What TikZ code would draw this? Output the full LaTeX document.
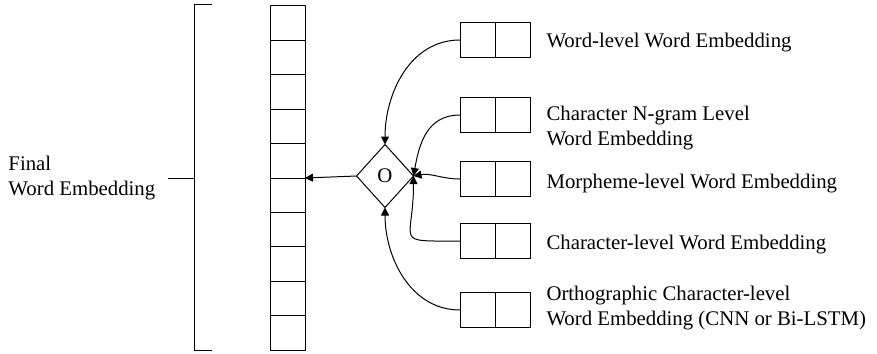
\documentclass[tikz,border=0pt]{standalone}
\usepackage{fontspec}
\setmainfont{Liberation Serif}
\usetikzlibrary{arrows.meta, positioning, shapes.geometric}

\begin{document}
\begin{tikzpicture}[
    x=0.5pt, y=-0.5pt,
    line width=0.5pt,
    font=\fontsize{10.4}{12.5}\selectfont,
    % one slot of the final vector
    cell/.style={draw, minimum width=17.5pt, minimum height=17.2pt, inner sep=0pt, outer sep=0pt},
    % half of a small embedding box
    half/.style={draw, minimum width=17.5pt, minimum height=17.5pt, inner sep=0pt, outer sep=0pt},
    combine/.style={draw, diamond, minimum width=28.5pt, minimum height=31.5pt, inner sep=0pt, outer sep=0pt},
    lbl/.style={align=left, inner sep=0pt},
    >={Triangle[length=4pt, width=4pt]}
]
    \useasboundingbox (0,0) rectangle (877,353);

    % Final embedding vector
    \foreach \i in {1,...,10}
        \node[cell] (cell\i) at (287.5, {6+34.4*(\i-0.5)}) {};

    % Bracket and its label
    \coordinate (brtop) at (212,5);
    \coordinate (brbot) at (212,350);
    \coordinate (brmid) at (194,178);
    \draw (brtop) -- (194,5) -- (194,350) -- (brbot);
    \draw (brmid) -- ++(-26,0) coordinate (brtick);
    \node[lbl, anchor=west] (final) at (8,178) {Final\\Word Embedding};

    % Combination operator
    \node[combine] (dia) at (385,176) {O};

    % Input embeddings
    \node[half] (e1) at (477.5,40) {};
    \node[half, right=0pt of e1] (e1r) {};
    \node[lbl, right=8pt of e1r, yshift=-1.5pt] (t1) {Word-level Word Embedding};

    \node[half] (e2) at (477.5,115) {};
    \node[half, right=0pt of e2] (e2r) {};
    \node[lbl, right=8pt of e2r, yshift=-6.5pt] (t2) {Character N-gram Level\\Word Embedding};

    \node[half] (e3) at (477.5,179) {};
    \node[half, right=0pt of e3] (e3r) {};
    \node[lbl, right=8pt of e3r, yshift=-2.5pt] (t3) {Morpheme-level Word Embedding};

    \node[half] (e4) at (477.5,241) {};
    \node[half, right=0pt of e4] (e4r) {};
    \node[lbl, right=8pt of e4r, yshift=-2pt] (t4) {Character-level Word Embedding};

    \node[half] (e5) at (477.5,310) {};
    \node[half, right=0pt of e5] (e5r) {};
    \node[lbl, right=8pt of e5r, yshift=1pt] (t5) {Orthographic Character-level\\Word Embedding (CNN or Bi-LSTM)};

    % Connections
    \draw[->] (e1.west) to[out=180, in=90] (dia.north);
    \draw[->] (e2.west) to[out=180, in=80, looseness=1.1] (dia.east);
    \draw[->] (e3.west) to[out=180, in=10] (dia.east);
    \draw[->] (e4.west) to[out=180, in=-90, looseness=2.2] (dia.east);
    \draw[->] (e5.west) to[out=180, in=-90] (dia.south);
    \draw[->] (dia.west) -- (cell5.south east);
\end{tikzpicture}
\end{document}
